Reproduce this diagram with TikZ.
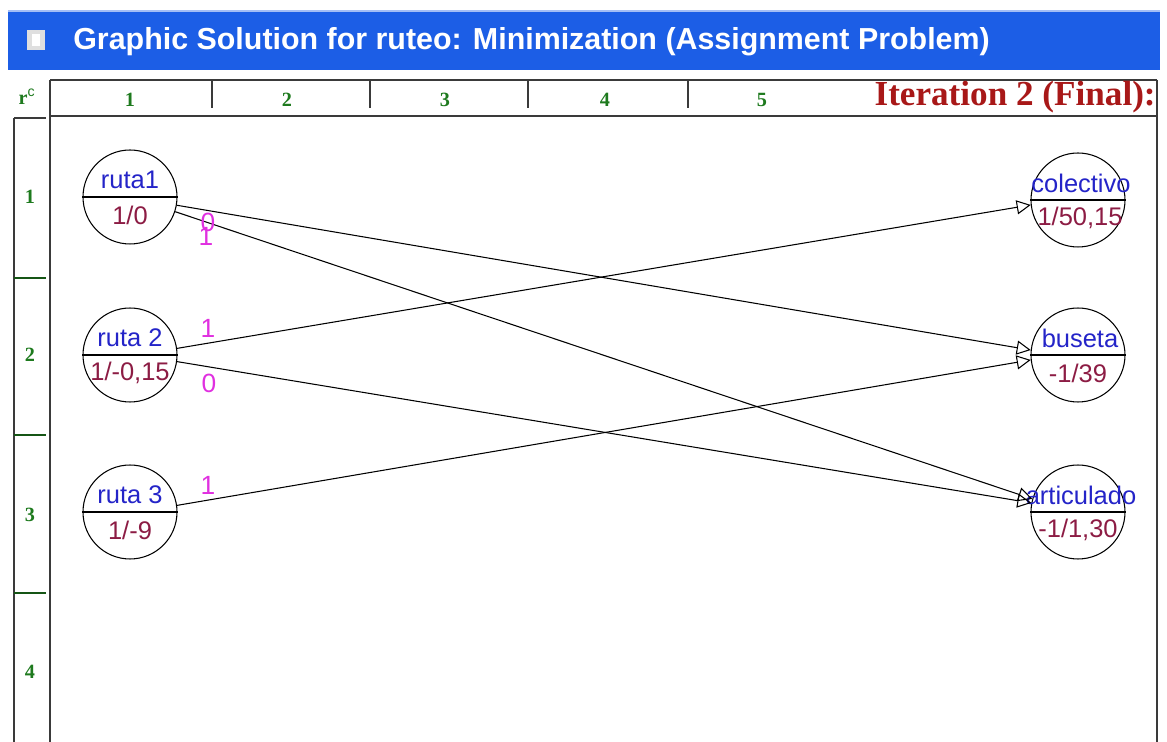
\documentclass[tikz,border=0pt]{standalone}
\usepackage{fontspec}
\setmainfont{Liberation Sans}
\newfontfamily\rulefont{Liberation Serif}
\usetikzlibrary{arrows.meta, positioning, calc}
\definecolor{titlebar}{HTML}{1C5EE6}
\definecolor{rulegreen}{HTML}{1E7A1E}
\definecolor{iterred}{HTML}{A81818}
\definecolor{nameblue}{HTML}{2424C8}
\definecolor{valred}{HTML}{8C1C44}
\definecolor{flowpink}{HTML}{E030E0}
\definecolor{framegray}{HTML}{3A3A3A}

\begin{document}
\begin{tikzpicture}[x=0.02cm, y=-0.02cm,
  station/.style={circle, draw=black, line width=0.6pt, minimum size=1.88cm, inner sep=0pt},
  stationtop/.style={text=nameblue, font=\fontsize{14.5}{16}\selectfont, inner sep=0pt},
  stationbot/.style={text=valred, font=\fontsize{14.5}{16}\selectfont, inner sep=0pt},
  flow/.style={text=flowpink, font=\fontsize{15}{17}\selectfont, inner sep=0pt},
  link/.style={-{Triangle[open, length=8pt, width=8pt]}, line width=0.6pt},
  ruler/.style={text=rulegreen, font=\rulefont\bfseries\fontsize{11.5}{13}\selectfont, inner sep=0pt}
]
  \useasboundingbox (0,0) rectangle (1167,742);

  % title bar
  \fill[titlebar] (8,10) rectangle (1160,70);
  \fill[titlebar!40!white] (8,10) rectangle (1160,12);
  \fill[gray!25] (27,30) rectangle (45,50);
  \fill[white] (32,34) rectangle (40,46);
  \node[anchor=west, text=white, font=\bfseries\fontsize{17.3}{20}\selectfont, inner sep=0pt]
    (title) at (73,42) {Graphic Solution for ruteo: Minimization (Assignment Problem)};

  % column ruler
  \draw[framegray, line width=0.8pt] (50,80) -- (1157,80);
  \draw[framegray, line width=1.4pt] (50,116) -- (1157,116);
  \draw[framegray, line width=1.4pt] (50,80) -- (50,742);
  \draw[framegray, line width=0.8pt] (1157,80) -- (1157,742);
  \foreach \x in {212,370,528,688}
    \draw[framegray, line width=1pt] (\x,80) -- (\x,108);
  \foreach \x/\n in {130/1,287/2,445/3,605/4,762/5}
    \node[ruler] (col\n) at (\x,100) {\n};
  \node[ruler] (corner) at (27,97) {r$^{\mathrm{c}}$};
  \node[anchor=east, text=iterred, font=\rulefont\bfseries\fontsize{20}{22}\selectfont, inner sep=0pt]
    (iter) at (1156,97) {Iteration 2 (Final):};

  % row ruler
  \draw[framegray, line width=1.4pt] (14,118) -- (46,118);
  \draw[framegray, line width=0.8pt] (14,118) -- (14,742);
  \foreach \y in {278,435,593}
    \draw[rulegreen!70!black, line width=1pt] (14,\y) -- (46,\y);
  \foreach \y/\n in {197/1,355/2,515/3,672/4}
    \node[ruler] (row\n) at (30,\y) {\n};

  % origin stations
  \node[station] (r1) at (130,197) {};
  \node[station] (r2) at (130,355) {};
  \node[station] (r3) at (130,512) {};
  % destination stations
  \node[station] (col) at (1078,200) {};
  \node[station] (bus) at (1078,355) {};
  \node[station] (art) at (1078,512) {};

  \foreach \s in {r1,r2,r3,col,bus,art}
    \draw[line width=0.8pt] (\s.west) -- (\s.east);

  \node[stationtop] (r1top) at ($(r1)+(0,-17)$) {ruta1};
  \node[stationbot] (r1bot) at ($(r1)+(0,18)$) {1/0};
  \node[stationtop] (r2top) at ($(r2)+(0,-17)$) {ruta 2};
  \node[stationbot] (r2bot) at ($(r2)+(0,18)$) {1/-0,15};
  \node[stationtop] (r3top) at ($(r3)+(0,-17)$) {ruta 3};
  \node[stationbot] (r3bot) at ($(r3)+(0,18)$) {1/-9};
  \node[stationtop] (coltop) at ($(col)+(3,-17)$) {colectivo};
  \node[stationbot] (colbot) at ($(col)+(2,18)$) {1/50,15};
  \node[stationtop] (bustop) at ($(bus)+(2,-17)$) {buseta};
  \node[stationbot] (busbot) at ($(bus)+(0,18)$) {-1/39};
  \node[stationtop] (arttop) at ($(art)+(3,-17)$) {articulado};
  \node[stationbot] (artbot) at ($(art)+(0,18)$) {-1/1,30};

  % assignments
  \draw[link] (r1.-10) -- (bus.174);
  \draw[link] (r1.-18) -- (art.164);
  \draw[link] (r2.8) -- (col.186);
  \draw[link] (r2.-8) -- (art.169);
  \draw[link] (r3.8) -- (bus.186);

  \node[flow] (f1) at (208,222) {0};
  \node[flow] (f2) at (206,236) {1};
  \node[flow] (f3) at (208,328) {1};
  \node[flow] (f4) at (209,383) {0};
  \node[flow] (f5) at (208,485) {1};
\end{tikzpicture}
\end{document}
